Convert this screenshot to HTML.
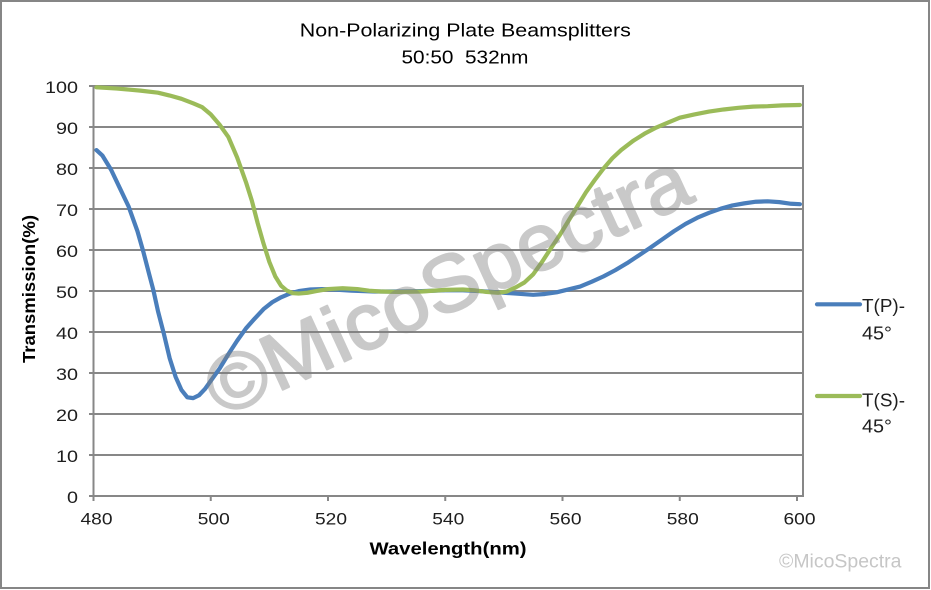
<!DOCTYPE html>
<html>
<head>
<meta charset="utf-8">
<style>
  html, body { margin: 0; padding: 0; background: #ffffff; }
  svg { display: block; }
  text { font-family: "Liberation Sans", "Noto Sans CJK SC", sans-serif; }
</style>
</head>
<body>
<svg width="931" height="590" viewBox="0 0 931 590" xmlns="http://www.w3.org/2000/svg">
  <rect x="0" y="0" width="931" height="590" fill="#ffffff"/>
  <rect x="1" y="1" width="928" height="587" fill="none" stroke="#868686" stroke-width="2"/>

  <!-- Title -->
  <text x="465.3" y="36.7" font-size="18.5" fill="#000" text-anchor="middle" textLength="331" lengthAdjust="spacingAndGlyphs">Non-Polarizing Plate Beamsplitters</text>
  <text x="465" y="63.3" font-size="18.5" fill="#000" text-anchor="middle" textLength="127" lengthAdjust="spacingAndGlyphs" style="white-space:pre">50:50  532nm</text>

  <!-- Gridlines -->
  <g stroke="#878787" stroke-width="2">
    <line x1="89" y1="86" x2="803" y2="86"/>
    <line x1="89" y1="127" x2="803" y2="127"/>
    <line x1="89" y1="168" x2="803" y2="168"/>
    <line x1="89" y1="209" x2="803" y2="209"/>
    <line x1="89" y1="250" x2="803" y2="250"/>
    <line x1="89" y1="291" x2="803" y2="291"/>
    <line x1="89" y1="332" x2="803" y2="332"/>
    <line x1="89" y1="373" x2="803" y2="373"/>
    <line x1="89" y1="414" x2="803" y2="414"/>
    <line x1="89" y1="455" x2="803" y2="455"/>
    <line x1="89" y1="496" x2="803" y2="496"/>
    <line x1="93.5" y1="85" x2="93.5" y2="497"/>
    <line x1="803" y1="85" x2="803" y2="497"/>
    <line x1="93.5" y1="496" x2="93.5" y2="501"/>
    <line x1="210.75" y1="496" x2="210.75" y2="501"/>
    <line x1="328" y1="496" x2="328" y2="501"/>
    <line x1="445.25" y1="496" x2="445.25" y2="501"/>
    <line x1="562.5" y1="496" x2="562.5" y2="501"/>
    <line x1="679.75" y1="496" x2="679.75" y2="501"/>
    <line x1="797" y1="496" x2="797" y2="501"/>
  </g>

  <!-- Y tick labels -->
  <g font-size="17" fill="#1e1e1e" text-anchor="end">
    <text x="78" y="93" textLength="33" lengthAdjust="spacingAndGlyphs">100</text>
    <text x="78" y="134" textLength="22" lengthAdjust="spacingAndGlyphs">90</text>
    <text x="78" y="175" textLength="22" lengthAdjust="spacingAndGlyphs">80</text>
    <text x="78" y="216" textLength="22" lengthAdjust="spacingAndGlyphs">70</text>
    <text x="78" y="257" textLength="22" lengthAdjust="spacingAndGlyphs">60</text>
    <text x="78" y="298" textLength="22" lengthAdjust="spacingAndGlyphs">50</text>
    <text x="78" y="339" textLength="22" lengthAdjust="spacingAndGlyphs">40</text>
    <text x="78" y="380" textLength="22" lengthAdjust="spacingAndGlyphs">30</text>
    <text x="78" y="421" textLength="22" lengthAdjust="spacingAndGlyphs">20</text>
    <text x="78" y="462" textLength="22" lengthAdjust="spacingAndGlyphs">10</text>
    <text x="78" y="503" textLength="11" lengthAdjust="spacingAndGlyphs">0</text>
  </g>

  <!-- X tick labels -->
  <g font-size="17" fill="#1e1e1e" text-anchor="middle">
    <text x="96.5" y="524.5" textLength="32" lengthAdjust="spacingAndGlyphs">480</text>
    <text x="213.75" y="524.5" textLength="32" lengthAdjust="spacingAndGlyphs">500</text>
    <text x="331" y="524.5" textLength="32" lengthAdjust="spacingAndGlyphs">520</text>
    <text x="448.25" y="524.5" textLength="32" lengthAdjust="spacingAndGlyphs">540</text>
    <text x="565.5" y="524.5" textLength="32" lengthAdjust="spacingAndGlyphs">560</text>
    <text x="682.75" y="524.5" textLength="32" lengthAdjust="spacingAndGlyphs">580</text>
    <text x="799.5" y="524.5" textLength="32" lengthAdjust="spacingAndGlyphs">600</text>
  </g>

  <!-- Axis titles -->
  <text x="448" y="554.3" font-size="17.5" font-weight="bold" fill="#000" text-anchor="middle" textLength="157" lengthAdjust="spacingAndGlyphs">Wavelength(nm)</text>
  <text transform="translate(35,289) rotate(-90)" x="0" y="0" font-size="17.5" font-weight="bold" fill="#000" text-anchor="middle" textLength="148" lengthAdjust="spacingAndGlyphs">Transmission(%)</text>

  <!-- Data series -->
  <g transform="translate(93.5,495.7) scale(5.8625,-4.1) translate(-480,0)" fill="none" stroke-linejoin="round" stroke-linecap="round">
    <polyline vector-effect="non-scaling-stroke" stroke="#4a7ebb" stroke-width="4.2" points="
      480.5,84.3 481.5,83.0 483,79.5 484.5,75.0 486,70.5 487.5,64.5 488.5,59.5 489.5,54 490.2,50.2
      491,45 492,39.5 493,33.5 494,29.0 495,25.8 496,24.0 497,23.8 498,24.5 499,26.0 500,28.0
      501.5,31.0 503,34.5 504.5,37.8 506,40.8 507.5,43.2 509,45.5 510.5,47.2 512,48.4 513.5,49.3
      515,49.9 517,50.3 519,50.4 521,50.3 524,50.0 528,49.8 532,49.8 536,49.9 540,50.1 543,50.1
      546,49.9 549,49.6 552,49.3 555,49.0 557,49.2 559,49.6 561,50.3 563,51.0 565,52.2 567,53.5
      569,55.0 571,56.7 573,58.6 575,60.5 577,62.5 579,64.5 581,66.3 583,67.8 585,69.0 587,70.0
      589,70.8 591,71.3 593,71.7 595,71.8 597,71.6 599,71.2 600.5,71.1"/>
    <polyline vector-effect="non-scaling-stroke" stroke="#9bbb59" stroke-width="4.2" points="
      480.5,99.6 484,99.3 488,98.8 491,98.3 493,97.6 495,96.8 497,95.7 498.5,94.8 500,93.0
      501.5,90.5 503,87.5 504.5,82.5 506,76.5 507,72.0 508,66.5 509,61.5 510,57.0 511,53.5
      512,51.2 513,50.0 514,49.4 515,49.3 516.5,49.5 518,49.9 520,50.4 522.5,50.6 525,50.4
      527,50.0 529,49.8 532,49.7 536,49.8 540,50.2 543,50.3 545,50.1 547,49.7 549,49.5 550.5,49.8
      552,50.8 553.5,52.0 555,54.0 556.5,57.0 558,60.3 559.5,63.5 561,67 562.5,70.5 564,74.0
      565.5,77.0 567,79.8 568.5,82.3 570,84.3 572,86.5 574,88.3 576,89.8 578,91.0 580,92.2
      582.5,93.0 585,93.7 587.5,94.2 590,94.6 592.5,94.9 595,95.0 597.5,95.2 600.5,95.3"/>
  </g>

  <!-- Big diagonal watermark -->
  <g opacity="0.42">
    <text transform="translate(221,418) rotate(-24.6)" x="0" y="0" font-size="80" fill="#7f7f7f" stroke="#7f7f7f" stroke-width="2" stroke-linejoin="round" textLength="523" lengthAdjust="spacingAndGlyphs">©MicoSpectra</text>
  </g>

  <!-- Legend -->
  <line x1="817" y1="304.3" x2="860" y2="304.3" stroke="#4a7ebb" stroke-width="4.2" stroke-linecap="round"/>
  <line x1="817" y1="396" x2="860" y2="396" stroke="#9bbb59" stroke-width="4.2" stroke-linecap="round"/>
  <g font-size="18" fill="#1e1e1e">
    <text x="862" y="312" textLength="43" lengthAdjust="spacingAndGlyphs">T(P)-</text>
    <text x="862" y="339.5" textLength="30" lengthAdjust="spacingAndGlyphs">45°</text>
    <text x="862" y="406.5" textLength="43" lengthAdjust="spacingAndGlyphs">T(S)-</text>
    <text x="862" y="432.5" textLength="30" lengthAdjust="spacingAndGlyphs">45°</text>
  </g>

  <!-- Bottom-right watermark -->
  <text x="779" y="567.3" font-size="19" fill="#c6c6c6" textLength="122.5" lengthAdjust="spacingAndGlyphs">©MicoSpectra</text>
</svg>
</body>
</html>
